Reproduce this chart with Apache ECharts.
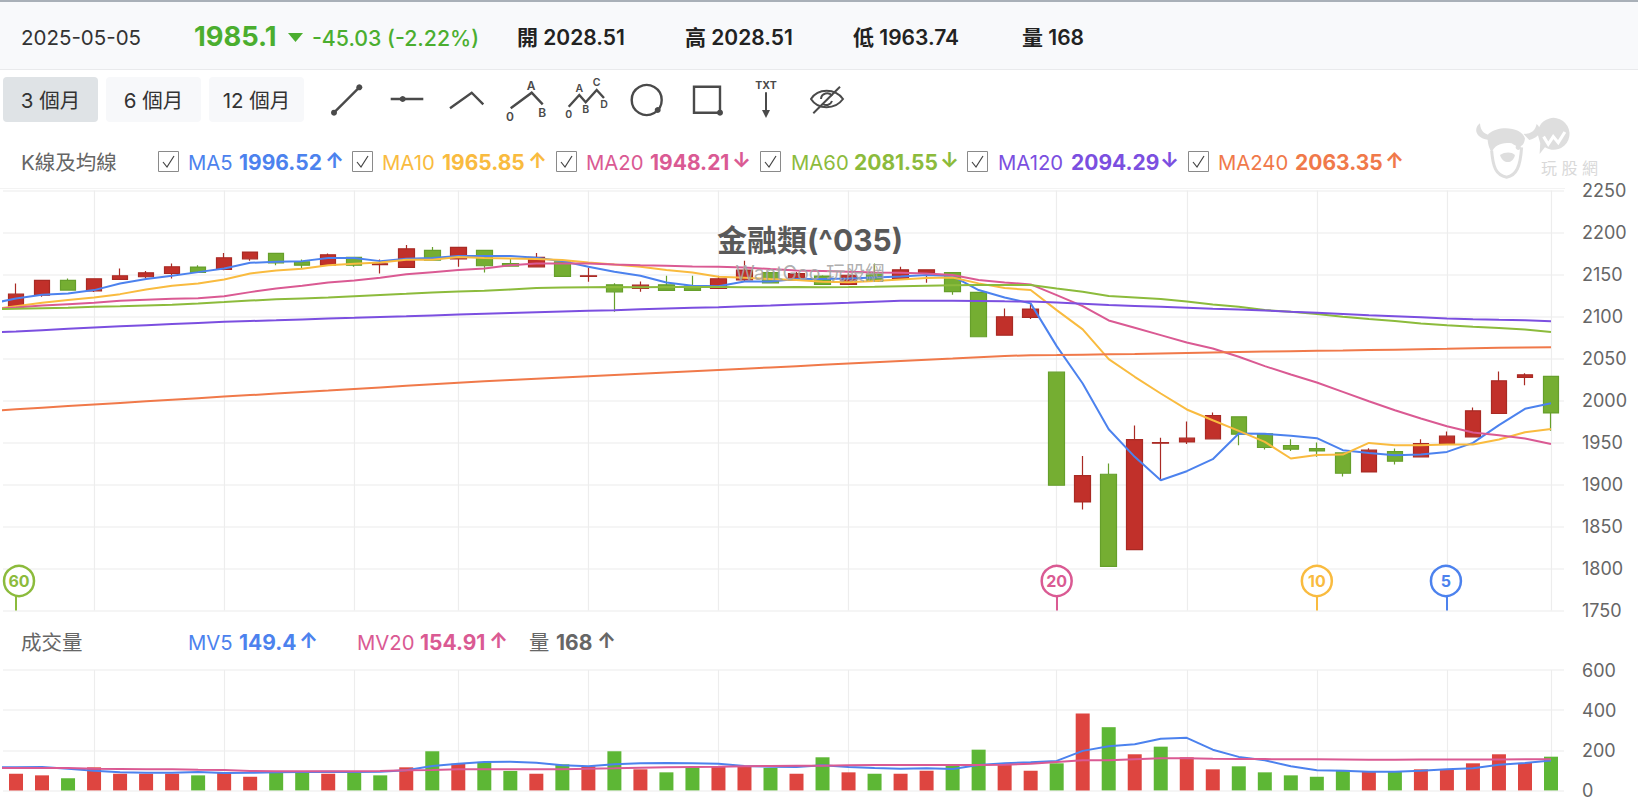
<!DOCTYPE html>
<html lang="zh-Hant">
<head>
<meta charset="utf-8">
<title>金融類(^035)</title>
<style>
html,body{margin:0;padding:0;background:#fff}
#chart{width:1638px;height:800px}
</style>
<script src="https://cdn.jsdelivr.net/npm/echarts@6/dist/echarts.min.js"></script>
</head>
<body>
<div id="chart"></div>
<script>
// Daily candles for the last 60 sessions, oldest first.
const opens = [2111.4,2125.3,2142.8,2130.5,2144,2147.2,2151.1,2158.7,2155.9,2168.6,2175,2165,2161,2170.2,2161.5,2158.3,2178.5,2168.6,2178.5,2163,
  2159,2165,2147.6,2137.6,2133.3,2137.6,2136,2133.3,2143.6,2152,2143.2,2148,2138,2150.3,2144,2152,2152,2128.6,2077.7,2098.8,
  2033.6,1879.1,1912.1,1822.3,1949,1950.6,1954.2,1980.4,1960.2,1946.3,1942.7,1937.5,1914.9,1939.1,1932.8,1948.6,1956.6,1984.4,2027.3,2028.51];
const closes = [2126.5,2142.8,2131.3,2144.8,2148.4,2151.9,2159.1,2152.3,2169.8,2176.6,2163.8,2161,2173.4,2161,2162.6,2180.5,2167,2182.1,2160.3,2159.9,
  2170.2,2147.6,2148.4,2129.3,2137.2,2130.9,2130.9,2144.8,2155.1,2140,2151,2138,2149,2141.6,2155.5,2155.5,2129.5,2075.8,2099.6,2108.7,
  1899,1910.5,1802.5,1953.4,1949.8,1955,1982,1959.8,1943.9,1941.9,1939.9,1913.3,1940.7,1927.6,1948.6,1957.4,1987.6,2023.3,2030.5,1985.1];
const highs = [2139.2,2142.8,2145.2,2144.8,2157.1,2153.9,2163,2161,2175.4,2176.6,2175,2167.8,2175,2170.2,2167.8,2184.9,2182.5,2182.1,2178.5,2169,
  2175.4,2165,2158.3,2139.6,2141.6,2148.4,2148.4,2148.4,2166.2,2152,2153,2149,2151,2163,2159,2155.5,2152,2128.6,2109.5,2115.5,
  2033.6,1933.9,1924.8,1970.1,1955.4,1974.9,1985.6,1980.4,1960.2,1953.8,1949.8,1937.5,1943.1,1942.7,1953.8,1962.9,1991.5,2034.4,2032.4,2028.51];
const lows = [2111,2123.3,2131.3,2128.9,2143.2,2145.2,2145.2,2152.3,2155,2166.2,2161,2157.1,2161,2159,2151.1,2158,2167,2159,2152.3,2159,
  2159,2147.6,2141.2,2105.5,2129.3,2130.9,2130.9,2133.3,2141.2,2140,2143.2,2138,2138,2141.6,2144,2140,2125.8,2075.8,2077.7,2096.8,
  1899,1870,1802.5,1822.3,1904.9,1948.2,1954.2,1946.7,1941.5,1939.9,1932.8,1909.3,1914.9,1923.6,1932.8,1948.6,1956.6,1984.4,2018,1963.74];

// Moving averages: the first figure belongs to the session just before the window.
const ma5 = [2115,2121.3,2125.7,2127.3,2131.3,2139.2,2144.4,2148.4,2152.7,2157.1,2163.8,2165,2165.8,2169.4,2169.4,2165.8,2168.6,2169.4,2171.8,2171.8,
  2171.8,2169.8,2165.8,2159.1,2153.1,2148.4,2140.4,2136.4,2136,2141.6,2141.6,2144.4,2144.4,2145.2,2146.4,2147.6,2149.2,2148,2131.4,2122.6,2115.5,
  2064.6,2020.1,1965.7,1932.8,1905,1915.7,1930,1960.6,1960.2,1957.8,1955,1940.7,1937.5,1934.7,1935.5,1938.7,1949.4,1970.5,1990,1996.52];
const ma10 = [2108.2,2112.2,2116.2,2119.4,2122.5,2126.5,2132.1,2136.4,2139.2,2144,2151.1,2154.7,2156.7,2161,2162.6,2164.2,2167.4,2167.4,2170.6,2169.4,
  2169,2168.2,2167,2164.2,2161.9,2159.1,2155.1,2152.3,2147.2,2146,2144.4,2143.2,2141.2,2140.8,2142,2144,2145.6,2146.4,2139.3,2133.7,2131.4,
  2107.5,2084.5,2049.1,2028.1,2008.2,1989.2,1976.4,1963.7,1950.6,1930.8,1935.1,1935.5,1949.4,1946.6,1946.6,1947.4,1947.4,1953.4,1962.1,1965.85];
const ma20 = [2108.6,2110.6,2113,2114.6,2116.2,2118.6,2119.8,2121,2121.7,2124.1,2128.9,2133.3,2136.4,2140.4,2142.8,2146,2150.3,2152.7,2155.1,2157.1,
  2161,2163,2163,2163,2161.9,2161,2160.3,2159.5,2159.1,2158.3,2156.3,2154.7,2153.9,2153.1,2152.3,2151.9,2151.1,2149.2,2143.3,2140.5,2138.1,
  2125.4,2112.3,2095.2,2086.5,2077.7,2069,2061.8,2051.9,2040.8,2030.9,2021.3,2010.2,1999,1988.3,1978.4,1969.3,1961.8,1958.6,1954.6,1948.21];
const ma60 = [2108.6,2109,2109.6,2110.2,2111.4,2112,2113,2114,2115.4,2117,2118.8,2120.3,2121.4,2122.6,2124.1,2125.5,2126.9,2128.4,2129.6,2130.6,
  2132,2133.8,2134.3,2134.8,2134.9,2134.8,2134.9,2135,2134.9,2134.8,2134.8,2134.9,2134.8,2134.9,2135.2,2136,2136.6,2137.2,2137.4,2137.4,2137.3,
  2133.3,2129.4,2124.2,2122.6,2120.6,2117.6,2114.3,2111.5,2107.5,2105.5,2102.8,2099.6,2096.8,2094.4,2091.6,2089.6,2087.7,2086.1,2084.5,2081.55];
const ma120 = [2081,2082,2083.6,2085.2,2086.8,2088.2,2089.6,2090.9,2092.2,2093.5,2094.5,2095.4,2096.4,2097.4,2098.3,2099.3,2100.2,2101.2,2102.2,2103.1,
  2104,2104.9,2105.8,2106.6,2107.4,2108.4,2109.3,2110.2,2111,2112,2113,2114.1,2115.2,2116.2,2117.4,2118.6,2118.6,2118.6,2118.4,2117.9,2117.6,
  2116.5,2115,2113.5,2112.5,2111.4,2110.3,2109.2,2108.2,2107,2105.5,2104.2,2102.9,2101.5,2100.2,2098.9,2097.6,2096.7,2096,2095.4,2094.29];
const ma240 = [1987.5,1989.4,1991.3,1993.2,1995.1,1997,1998.9,2000.7,2002.6,2004.5,2006.3,2008.1,2010,2011.8,2013.7,2015.5,2017.3,2019.1,2020.9,2022.7,
  2024.3,2025.8,2027.3,2028.8,2030.3,2031.8,2033.3,2034.8,2036.3,2037.8,2039.3,2040.8,2042.3,2043.8,2045.3,2046.8,2048.3,2049.8,2051.4,2052.8,2053.8,
  2054,2054.4,2054.8,2055.2,2055.8,2056.4,2057,2057.6,2058.1,2058.5,2059,2059.4,2059.9,2060.4,2060.9,2061.4,2062,2062.6,2063,2063.35];

// Volume per session and its direction (1 = red, 0 = green).
const volumes = [83,75,60,115,83,83,83,75,88,68,88,88,83,88,75,115,195,133,142,97,
  83,130,120,195,105,90,115,120,120,112,83,165,90,83,83,98,128,203,128,98,
  135,383,315,180,218,165,105,120,90,75,68,102,95,92,105,105,135,180,137,168];
const volumeUp = [1,1,0,1,1,1,1,0,1,1,0,0,1,0,0,1,0,1,0,0,
  1,0,1,0,1,0,0,1,1,0,1,0,1,0,1,1,0,0,1,1,
  0,1,0,1,0,1,1,0,0,0,0,0,1,0,1,1,1,1,1,0];
const mv5 = [115,115,117,108,98,90,88,88,92,87,88,90,92,93,92,93,100,122,133,142,143,
  138,125,120,130,135,137,135,133,122,118,117,125,117,112,108,110,107,127,135,140,
  147,197,220,230,257,262,203,167,150,120,100,98,93,93,98,105,110,128,137,149.4];
const mv20 = [112,112,112,112,108,107,105,105,103,102,97,95,95,95,95,97,100,102,105,105,105,
  105,105,108,110,113,115,117,118,120,122,123,123,125,127,127,127,127,127,128,133,
  142,150,150,155,160,160,158,157,156,155,155,154,153,153,154,154,154,154,155,154.91];

// Sessions that carry a vertical guide line.
const guideSessions = [3,8,13,17,22,27,32,40,45,50,55,59];

// Sessions dropping out of each moving average next.
const maMarkers = [
  {session:0, label:'60', color:'#8CBB3C', shift:3},
  {session:40, label:'20', color:'#DA5A93', shift:0},
  {session:50, label:'10', color:'#F9BB3F', shift:0},
  {session:55, label:'5', color:'#4C82EE', shift:-1}
];
const markerHeadValue = 1785;
const markerFootTop = 1767;

const priceLegend = [
  {name:'MA5', value:'1996.52', arrow:'↑', color:'#4C82EE', box:158, nameX:188, valueX:239, arrowX:325},
  {name:'MA10', value:'1965.85', arrow:'↑', color:'#F9BB3F', box:352, nameX:382, valueX:442, arrowX:528},
  {name:'MA20', value:'1948.21', arrow:'↓', color:'#DA5A93', box:556, nameX:586, valueX:650, arrowX:732},
  {name:'MA60', value:'2081.55', arrow:'↓', color:'#8CBB3C', box:760, nameX:791, valueX:854, arrowX:940},
  {name:'MA120', value:'2094.29', arrow:'↓', color:'#7B4FE0', box:967, nameX:998, valueX:1071, arrowX:1160},
  {name:'MA240', value:'2063.35', arrow:'↑', color:'#F0794A', box:1188, nameX:1218, valueX:1295, arrowX:1385}
];
const volumeLegend = [
  {name:'MV5', value:'149.4', arrow:'↑', color:'#4C82EE', nameX:188, valueX:239, arrowX:299},
  {name:'MV20', value:'154.91', arrow:'↑', color:'#DA5A93', nameX:357, valueX:420, arrowX:489},
  {name:'量', value:'168', arrow:'↑', color:'#666666', nameX:529, valueX:556, arrowX:597}
];
const rangeButtons = ['3 個月','6 個月','12 個月'];

const FONT = 'Inter, "Noto Sans CJK TC", sans-serif';
const CANDLE_RED = '#C1302A', CANDLE_RED_EDGE = '#A92A24';
const CANDLE_GREEN = '#75AE32', CANDLE_GREEN_EDGE = '#669F2B';
const BAR_RED = '#DE4540', BAR_GREEN = '#5DB735';
const GRID_LINE = '#F2F2F2', ICON = '#4A4A4A';

// The first axis slot holds the session before the window, so lines enter from the left edge.
const sessions = ['prev'].concat(opens.map((_, i) => 's' + i));
const candleData = ['-'].concat(opens.map((o, i) => [o, closes[i], lows[i], highs[i]]));
const volumeData = ['-'].concat(volumes.map((v, i) => ({
  value: v, itemStyle: {color: volumeUp[i] ? BAR_RED : BAR_GREEN}
})));

function label(x, y, text, size, fill, weight, z, align) {
  return {type:'text', x, y, z: z || 20, silent:true, style:{
    text, fontSize:size, fontWeight:weight || 400, fontFamily:FONT, fill,
    align: align || 'left', verticalAlign:'middle'
  }};
}
function poly(points, stroke, width) {
  return {type:'polyline', z:20, silent:true, shape:{points},
    style:{stroke: stroke || ICON, lineWidth: width || 2.4, fill:'none'}};
}
function dot(cx, cy, r, fill) {
  return {type:'circle', z:21, silent:true, shape:{cx, cy, r}, style:{fill: fill || ICON}};
}
// Registers an SVG outline as a shape usable from the graphic component.
let shapeCount = 0;
function outline(d) {
  const name = 'outline' + (shapeCount++);
  echarts.graphic.registerShape(name, echarts.graphic.extendPath(d));
  return name;
}

const art = [];
// Quote strip
art.push({type:'rect', z:1, silent:true, shape:{x:0,y:2,width:1638,height:67}, style:{fill:'#F8F9FB'}});
art.push({type:'rect', z:1, silent:true, shape:{x:0,y:0,width:1638,height:2}, style:{fill:'#A9B0B8'}});
art.push({type:'rect', z:1, silent:true, shape:{x:0,y:69,width:1638,height:1}, style:{fill:'#E9EAEC'}});
art.push(label(21, 37.5, '2025-05-05', 20.5, '#333333'));
art.push(label(194, 36, '1985.1', 27.3, '#4BAE2F', 700));
art.push({type:'polygon', z:20, silent:true, shape:{points:[[288,33],[303,33],[295.5,42]]}, style:{fill:'#4BAE2F'}});
art.push(label(312, 37.5, '-45.03 (-2.22%)', 21.3, '#4BAE2F', 500));
[['開 2028.51',517],['高 2028.51',685],['低 1963.74',853],['量 168',1022]].forEach(([t, x]) => {
  art.push(label(x, 37.5, t, 21, '#222222', 600));
});

// Range buttons
rangeButtons.forEach((t, i) => {
  const x = 3 + i * 103;
  art.push({type:'rect', z:2, silent:true, shape:{x, y:77, width:95, height:45, r:4},
    style:{fill: i === 0 ? '#DFE3E6' : '#F7F8FA'}});
  art.push(label(x + 47.5, 100.5, t, 20.5, '#333333', 400, 20, 'center'));
});

// Drawing tools
art.push(poly([[334,112.7],[359.3,87.3]]), dot(334,112.7,3), dot(359.3,87.3,3));
art.push(poly([[390.7,99],[423.3,99]]), dot(402.7,99,3));
art.push(poly([[450,108.3],[471.7,92.7],[483.3,104.3]]));
art.push(poly([[510.7,108.3],[531.7,92.7],[542.7,104.3]]));
[['0',510,116.7],['A',531,85],['B',542.3,112.3]].forEach(([t,x,y]) => art.push(label(x,y,t,12,ICON,600,20,'center')));
art.push(poly([[568.7,106.7],[579.3,95],[585.7,102.3],[596.7,90],[604,98]]));
[['0',568.7,114.3],['A',579.3,88],['B',585.7,109.3],['C',596.7,82],['D',604,104.5]].forEach(([t,x,y]) => art.push(label(x,y,t,10.5,ICON,600,20,'center')));
art.push({type:'circle', z:20, silent:true, shape:{cx:646.7,cy:100,r:15}, style:{fill:'none',stroke:ICON,lineWidth:2.4}}, dot(657.7,110,3));
art.push({type:'rect', z:20, silent:true, shape:{x:694,y:86.7,width:26,height:26}, style:{fill:'none',stroke:ICON,lineWidth:2.4}}, dot(720,112.7,3));
art.push(label(766, 85.7, 'TXT', 10.5, ICON, 700, 20, 'center'));
art.push(poly([[766,92.3],[766,116]],ICON,2), {type:'polygon', z:20, silent:true, shape:{points:[[762,110],[770,110],[766,118]]}, style:{fill:ICON}});
art.push({type:outline('M811 99 C818 88 835 88 843 99 C835 110 818 110 811 99 Z M821 99 A6 6 0 0 1 832 96 M832 101 A6 6 0 0 1 823 104'),
  z:20, silent:true, shape:{}, style:{fill:'none',stroke:ICON,lineWidth:2}});
art.push(poly([[813.3,113.3],[840,86.7]],ICON,2));

// Indicator rows
art.push(label(21, 162, 'K線及均線', 20.5, '#666666'));
art.push({type:'rect', z:1, silent:true, shape:{x:0,y:188,width:1565,height:1}, style:{fill:'#F3F3F3'}});
priceLegend.forEach(e => {
  art.push({type:'rect', z:20, silent:true, shape:{x:e.box+.5,y:151.5,width:20,height:20}, style:{fill:'#fff',stroke:'#8A8A8A',lineWidth:1}});
  art.push(poly([[e.box+5,162],[e.box+9,167],[e.box+16,156]],'#444444',1.2));
  art.push(label(e.nameX, 162, e.name, 20.3, e.color));
  art.push(label(e.valueX, 162, e.value, 21, e.color, 700));
  art.push(label(e.arrowX, 160, e.arrow, 21, e.color, 700));
});
art.push(label(21, 642.5, '成交量', 20.5, '#666666'));
volumeLegend.forEach(e => {
  art.push(label(e.nameX, 642.5, e.name, 20.3, e.color));
  art.push(label(e.valueX, 642.5, e.value, 21, e.color, 700));
  art.push(label(e.arrowX, 640.5, e.arrow, 21, e.color, 700));
});

// Chart heading
art.push(label(810, 239.5, '金融類(^035)', 30, '#595959', 700, 60, 'center'));
art.push(label(810, 273, 'WantGoo 玩股網', 19.5, 'rgba(165,165,165,0.9)', 400, 60, 'center'));

// Site logo
const LOGO = '#DEDEDE';
const logoAt = {x:1465, y:110, scaleX:1/3, scaleY:1/3, z:3, silent:true};
[
  'M45 40 C25 55 30 85 72 90 L88 76 C62 78 46 65 45 40 Z',
  'M215 42 C235 60 225 82 193 90 L176 72 C200 72 212 60 215 42 Z',
  'M70 72 C100 45 170 50 180 85 C178 112 160 116 140 100 C112 95 88 105 80 128 C70 110 65 90 70 72 Z',
  'M105 135 C120 125 140 125 150 135 C145 162 115 165 105 135 Z',
  'M218 72 A48 48 0 1 1 240 112 L224 132 L226 100 Z'
].forEach(d => art.push(Object.assign({type:outline(d), shape:{}, style:{fill:LOGO}}, logoAt)));
art.push(Object.assign({type:outline('M80 122 C84 170 92 196 125 202 C155 196 166 170 170 112'), shape:{}, style:{fill:'none',stroke:LOGO,lineWidth:9}}, logoAt));
art.push(Object.assign({type:'circle', shape:{cx:160,cy:112,r:8}, style:{fill:LOGO}}, logoAt));
art.push(Object.assign({type:'polyline', shape:{points:[[236,80],[250,103],[265,80],[280,98],[300,66]]}, style:{fill:'none',stroke:'#ffffff',lineWidth:9}}, logoAt));
art.push(label(1541, 168, '玩 股 網', 16, '#D9D9D9', 400, 3));

const axisHidden = {show:false};
const chart = echarts.init(document.getElementById('chart'), null, {renderer:'svg', width:1638, height:800});
chart.setOption({
  animation:false,
  backgroundColor:'#ffffff',
  graphic:{elements:art},
  grid:[
    {left:3, top:190.4, width:1561, height:420},
    {left:3, top:670, width:1561, height:120.4}
  ],
  xAxis:[0,1].map(g => ({
    type:'category', gridIndex:g, data:sessions, min:1, boundaryGap:true,
    axisLine:axisHidden, axisTick:axisHidden, axisLabel:axisHidden, splitLine:axisHidden
  })),
  yAxis:[
    {type:'value', gridIndex:0, position:'right', min:1750, max:2250, interval:50, scale:true},
    {type:'value', gridIndex:1, position:'right', min:0, max:600, interval:200}
  ].map(a => Object.assign(a, {
    axisLine:axisHidden, axisTick:axisHidden,
    axisLabel:{color:'#666666', fontSize:18, fontFamily:FONT, margin:18, align:'left', formatter:v => String(v)},
    splitLine:{lineStyle:{color:GRID_LINE, width:1.5}}
  })),
  series:[
    // Vertical guides sit under the marks.
    ...[0,1].map(g => ({
      type:'line', xAxisIndex:g, yAxisIndex:g, data:[], z:1, silent:true,
      markLine:{silent:true, z:1, symbol:'none', animation:false, label:{show:false},
        lineStyle:{color:'#EDEDED', width:1.2, type:'solid'},
        data:guideSessions.map(i => ({xAxis:i + 1}))}
    })),
    {
      type:'candlestick', name:'K線', xAxisIndex:0, yAxisIndex:0, z:3, barWidth:16, data:candleData,
      itemStyle:{color:CANDLE_RED, color0:CANDLE_GREEN, borderColor:CANDLE_RED_EDGE, borderColor0:CANDLE_GREEN_EDGE, borderWidth:1.2},
      markPoint:{
        silent:true, symbol:'circle', symbolSize:30, animation:false,
        data:maMarkers.map(m => ({
          coord:[m.session + 1, markerHeadValue], name:m.label, symbolOffset:[m.shift, 0],
          itemStyle:{color:'#ffffff', borderColor:m.color, borderWidth:2.5},
          label:{show:true, position:'inside', formatter:'{b}', color:m.color, fontFamily:FONT, fontWeight:700, fontSize:16}
        }))
      },
      markLine:{
        silent:true, animation:false, symbol:'none', label:{show:false},
        data:maMarkers.map(m => ([
          {coord:[m.session + 1, 1750], lineStyle:{color:m.color, width:2, type:'solid'}},
          {coord:[m.session + 1, markerFootTop]}
        ]))
      }
    },
    ...[['MA5',ma5,'#4C82EE'],['MA10',ma10,'#F9BB3F'],['MA20',ma20,'#DA5A93'],['MA60',ma60,'#8CBB3C'],['MA120',ma120,'#7B4FE0'],['MA240',ma240,'#F0794A']]
      .map(([name, data, color]) => ({
        type:'line', name, data, xAxisIndex:0, yAxisIndex:0, z:4, symbol:'none', silent:true,
        lineStyle:{color, width:2}, itemStyle:{color}
      })),
    {type:'bar', name:'量', xAxisIndex:1, yAxisIndex:1, z:3, barWidth:14, data:volumeData},
    ...[['MV5',mv5,'#4C82EE'],['MV20',mv20,'#DA5A93']]
      .map(([name, data, color]) => ({
        type:'line', name, data, xAxisIndex:1, yAxisIndex:1, z:4, symbol:'none', silent:true,
        lineStyle:{color, width:2}, itemStyle:{color}
      }))
  ]
});
</script>
</body>
</html>
